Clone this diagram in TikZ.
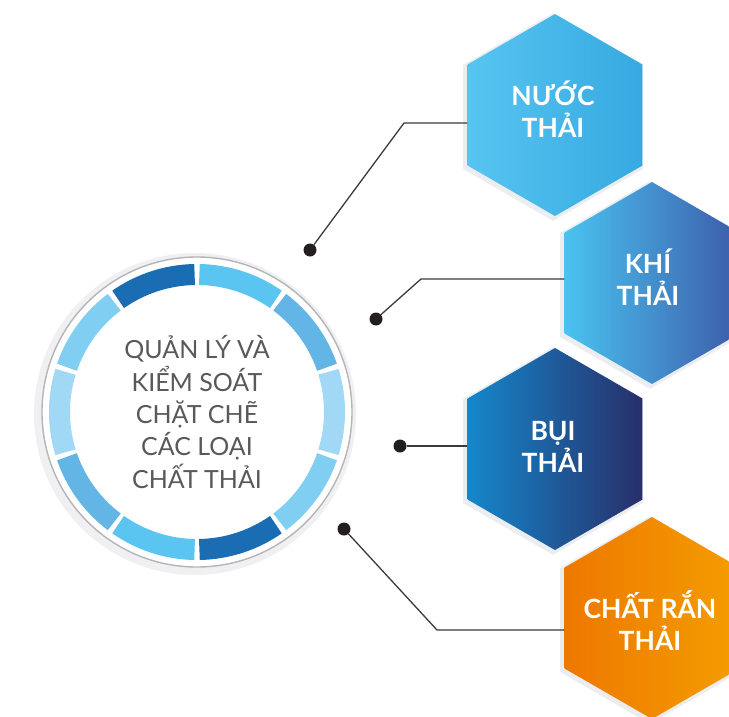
\documentclass[tikz,border=0pt]{standalone}
\usepackage{fontspec}
\setmainfont{Lato}
\usetikzlibrary{shapes.geometric}

\definecolor{segSky}{HTML}{5BC5F1}
\definecolor{segMid}{HTML}{62B5E4}
\definecolor{segPale}{HTML}{A0D8F5}
\definecolor{segLight}{HTML}{80CFF3}
\definecolor{segDark}{HTML}{1B6DB3}
\definecolor{hubText}{HTML}{58595B}
\definecolor{hubLine}{HTML}{B5B5B7}
\definecolor{haloGray}{HTML}{F0F0F2}
\definecolor{rimGray}{HTML}{ECEDF1}
\definecolor{wireGray}{HTML}{3A3A3C}
\definecolor{dotBlack}{HTML}{231F20}
\definecolor{waterL}{HTML}{57C5F1}
\definecolor{waterR}{HTML}{36A9E0}
\definecolor{airL}{HTML}{4AC3F0}
\definecolor{airR}{HTML}{3D5BA9}
\definecolor{dustL}{HTML}{1587CB}
\definecolor{dustR}{HTML}{282F69}
\definecolor{solidL}{HTML}{EE7800}
\definecolor{solidR}{HTML}{F49D00}

\tikzset{
  hexa/.style={regular polygon, regular polygon sides=6, shape border rotate=30,
    minimum size=202pt, inner sep=0pt,
    preaction={fill=rimGray, draw=rimGray, line width=5pt,
      transform canvas={shift={(-2pt,-2pt)}}}},
  hexlabel/.style={align=center, text=white, inner sep=0pt,
    font=\fontsize{26.5}{32}\selectfont\bfseries},
  hub/.style={circle, minimum size=310pt, inner sep=0pt, fill=white,
    draw=hubLine, line width=1.4pt, align=center, text=hubText,
    font=\fontsize{25}{32.3}\selectfont,
    preaction={draw=haloGray, line width=12pt,
      transform canvas={shift={(-2pt,-2pt)}}}},
  seg/.style={line width=21pt},
  dot/.style={circle, fill=dotBlack, inner sep=0pt, minimum size=13pt},
  wire/.style={draw=wireGray, line width=1.3pt}
}

\begin{document}
\begin{tikzpicture}[x=1pt,y=-1pt]
    \useasboundingbox (0,0) rectangle (729,716);
    \clip (0,0) rectangle (729,716);

    % central circle
    \node[hub] (hub) at (197,412)
      {QUẢN LÝ VÀ\\KIỂM SOÁT\\CHẶT CHẼ\\CÁC LOẠI\\CHẤT THẢI};

    % ten ring segments, five colours twice round
    \foreach \c [count=\i from 0] in
      {segSky,segMid,segPale,segLight,segDark,segSky,segMid,segPale,segLight,segDark}{%
      \pgfmathsetmacro{\a}{-89+36*\i}
      \pgfmathsetmacro{\b}{-55+36*\i}
      \draw[seg,\c] (hub.center) ++(\a:137.5)
        arc[start angle=\a, end angle=\b, radius=137.5];
    }

    % hexagons
    \node[hexa, left color=waterL, right color=waterR] (h1) at (555,115) {};
    \node[hexa, left color=airL, right color=airR] (h2) at (652,283) {};
    \node[hexa, left color=dustL, right color=dustR] (h3) at (555,449) {};
    \node[hexa, left color=solidL, right color=solidR] (h4) at (652,618) {};

    \node[hexlabel] (t1) at ([xshift=-2pt,yshift=6pt]h1.center) {NƯỚC\\THẢI};
    \node[hexlabel] (t2) at ([xshift=-4pt,yshift=5.5pt]h2.center) {KHÍ\\THẢI};
    \node[hexlabel] (t3) at ([xshift=-2pt,yshift=2.5pt]h3.center) {BỤI\\THẢI};
    \node[hexlabel] (t4) at ([xshift=-2pt,yshift=-2.5pt]h4.center) {CHẤT RẮN\\THẢI};

    % dots and bends
    \node[dot] (d1) at (310,250) {};
    \node[dot] (d2) at (376,319) {};
    \node[dot] (d3) at (400,446) {};
    \node[dot] (d4) at (344,529) {};
    \coordinate (b1) at (404,123);
    \coordinate (b2) at (421,279);
    \coordinate (b4) at (437,630);

    \draw[wire] (d1) -- (b1) -- (b1 -| h1.west);
    \draw[wire] (d2) -- (b2) -- (b2 -| h2.west);
    \draw[wire] (d3) -- (d3 -| h3.west);
    \draw[wire] (d4) -- (b4) -- (b4 -| h4.west);
\end{tikzpicture}
\end{document}
